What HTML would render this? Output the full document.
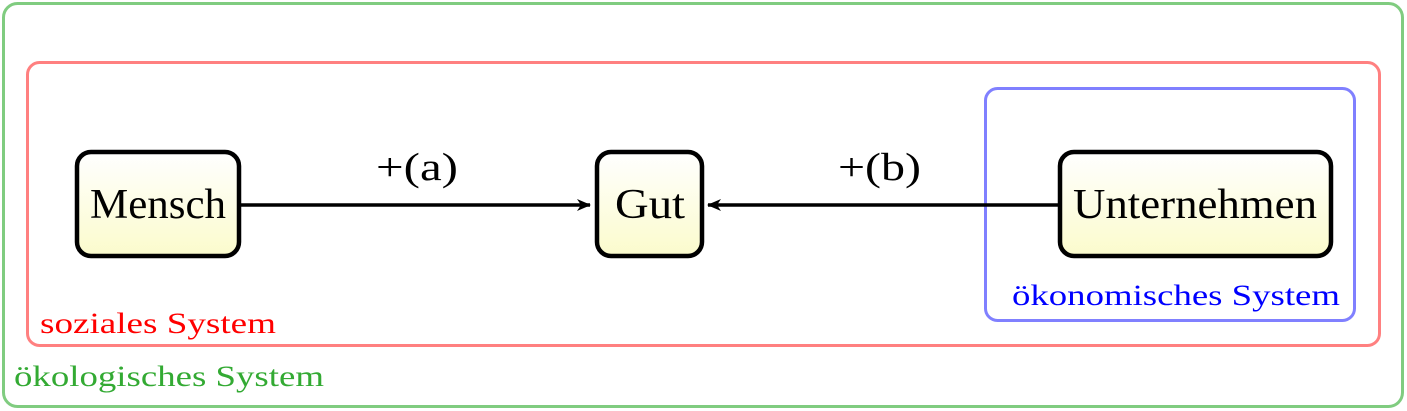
<!DOCTYPE html>
<html><head><meta charset="utf-8"><style>
html,body{margin:0;padding:0;background:#fff;}
svg{display:block;font-family:"Liberation Serif",serif;}
</style></head><body>
<svg width="1407" height="411" viewBox="0 0 1407 411">
<defs>
<linearGradient id="g" x1="0" y1="0" x2="0" y2="1">
<stop offset="0" stop-color="#ffffff"/><stop offset="1" stop-color="#fbfbcc"/>
</linearGradient>
<marker id="ah" markerWidth="14" markerHeight="12" refX="13" refY="6" orient="auto" markerUnits="userSpaceOnUse">
<path d="M0,0 L14,6 L0,12 L4,6 Z" fill="#000"/>
</marker>
</defs>
<rect x="3.5" y="3.5" width="1399" height="403" rx="14" fill="none" stroke="#80cc80" stroke-width="3"/>
<rect x="27.5" y="62.5" width="1352" height="283" rx="12" fill="none" stroke="#ff8080" stroke-width="3"/>
<rect x="985.5" y="88.5" width="369" height="232" rx="12" fill="none" stroke="#8080ff" stroke-width="3"/>
<line x1="239" y1="205" x2="590" y2="205" stroke="#000" stroke-width="3.5" marker-end="url(#ah)"/>
<line x1="1060" y1="205" x2="708" y2="205" stroke="#000" stroke-width="3.5" marker-end="url(#ah)"/>
<rect x="77" y="152" width="162" height="104" rx="14" fill="url(#g)" stroke="#000" stroke-width="4.5"/>
<rect x="597" y="152" width="105" height="104" rx="14" fill="url(#g)" stroke="#000" stroke-width="4.5"/>
<rect x="1060" y="152" width="271" height="104" rx="14" fill="url(#g)" stroke="#000" stroke-width="4.5"/>
<text x="90" y="218" font-size="42" textLength="136" lengthAdjust="spacingAndGlyphs">Mensch</text>
<text x="615" y="218" font-size="42" textLength="70" lengthAdjust="spacingAndGlyphs">Gut</text>
<text x="1073" y="218" font-size="42" textLength="244" lengthAdjust="spacingAndGlyphs">Unternehmen</text>
<text x="376" y="180" font-size="39" textLength="82" lengthAdjust="spacingAndGlyphs">+(a)</text>
<text x="838" y="180" font-size="39" textLength="83" lengthAdjust="spacingAndGlyphs">+(b)</text>
<text x="40" y="333" font-size="30" fill="#ff0000" textLength="236" lengthAdjust="spacingAndGlyphs">soziales System</text>
<text x="1012" y="305" font-size="30" fill="#0000ff" textLength="328" lengthAdjust="spacingAndGlyphs">ökonomisches System</text>
<text x="14" y="386" font-size="30" fill="#33aa33" textLength="310" lengthAdjust="spacingAndGlyphs">ökologisches System</text>
</svg>
</body></html>
